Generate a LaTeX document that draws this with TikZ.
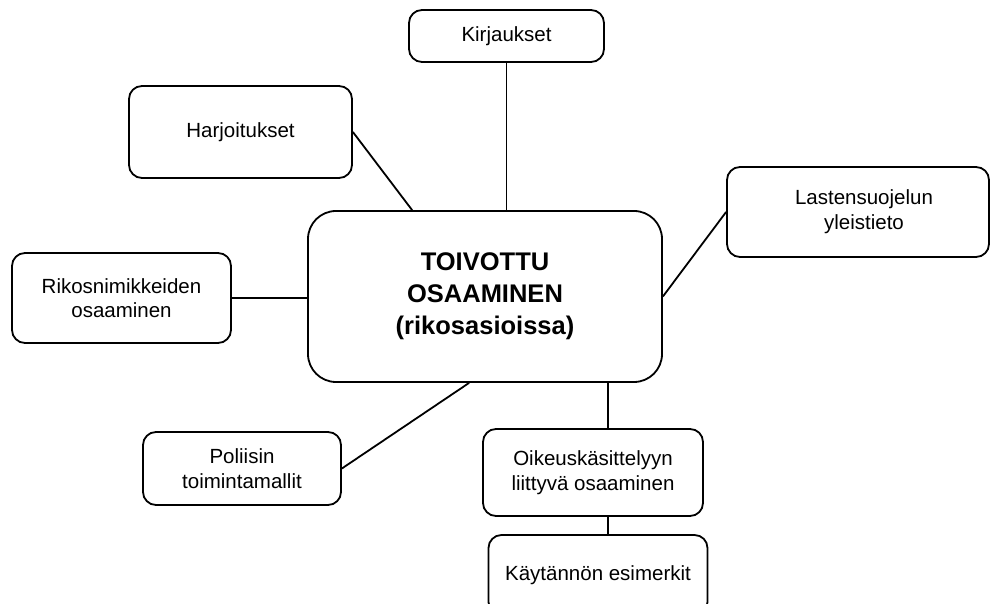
\documentclass[tikz,border=0pt]{standalone}
\usepackage{fontspec}
\setmainfont{Liberation Sans}
\usepackage{tikz}
\usetikzlibrary{arrows.meta}

\begin{document}
\begin{tikzpicture}[x=1pt, y=1pt]
	\useasboundingbox (0,0) rectangle (990,604);
	\begin{scope}[every node/.style = {draw, line width=1.8pt, rounded corners=13pt,
			inner sep=0pt, align=center, font=\fontsize{20.5}{24.6}\selectfont}]
		\node [minimum width=354, minimum height=171, rounded corners=28pt,
			font=\fontsize{25.5}{32}\selectfont\bfseries] (keski) at (485,307.5)
			{TOIVOTTU\\OSAAMINEN\\(rikosasioissa)};
		\node [minimum width=195, minimum height=52] (kirj) at (506.5,568) {Kirjaukset};
		\node [minimum width=223, minimum height=92] (harj) at (240.5,472) {Harjoitukset};
		\node [minimum width=262, minimum height=90] (lasten) at (858,392)
			{\hspace*{12pt}Lastensuojelun\\\hspace*{12pt}yleistieto};
		\node [minimum width=219, minimum height=90] (rikos) at (121.5,306) {Rikosnimikkeiden\\osaaminen};
		\node [minimum width=198, minimum height=73] (pol) at (242,135.5) {Poliisin\\toimintamallit};
		\node [minimum width=220, minimum height=87] (oik) at (593,131.5) {Oikeuskäsittelyyn\\liittyvä osaaminen};
		\node [minimum width=219, minimum height=80] (kayt) at (598,29) {Käytännön esimerkit};
	\end{scope}
	\begin{scope}[every edge/.style={draw=black, line width=1.8pt}]
		\path (kirj.south) edge (kirj.south |- keski.north);
		\path (harj.east) edge ([xshift=105pt]keski.north west);
		\path (lasten.west) edge (keski.east);
		\path (rikos.east) edge (rikos.east -| keski.west);
		\path (pol.east) edge ([xshift=162pt]keski.south west);
		\path ([xshift=15pt]oik.north) edge ([xshift=15pt]oik.north |- keski.south);
		\path ([xshift=15pt]oik.south) edge ([xshift=15pt]oik.south |- kayt.north);
	\end{scope}
\end{tikzpicture}
\end{document}
